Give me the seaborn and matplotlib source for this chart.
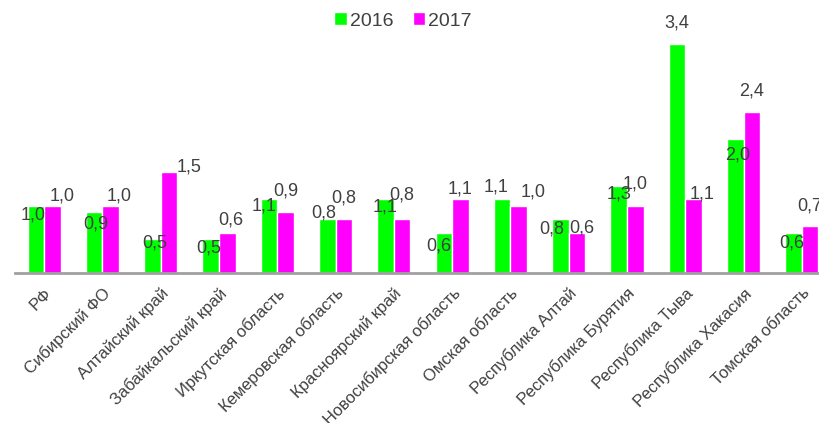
import matplotlib
matplotlib.use("Agg")
import matplotlib.pyplot as plt
import seaborn as sns
import pandas as pd

regions = [
    "РФ", "Сибирский ФО", "Алтайский край", "Забайкальский край",
    "Иркутская область", "Кемеровская область", "Красноярский край",
    "Новосибирская область", "Омская область", "Республика Алтай",
    "Республика Бурятия", "Республика Тыва", "Республика Хакасия",
    "Томская область",
]
years = ["2016", "2017"]
values_2016 = [1.0, 0.9, 0.5, 0.5, 1.1, 0.8, 1.1, 0.6, 1.1, 0.8, 1.3, 3.4, 2.0, 0.6]
values_2017 = [1.0, 1.0, 1.5, 0.6, 0.9, 0.8, 0.8, 1.1, 1.0, 0.6, 1.0, 1.1, 2.4, 0.7]

# label nudges in pixels (dx, dy of the text centre relative to the bar top)
nudge_2016 = [(-3, -9), (2, -12), (2, -4), (-2, -9), (-5, -7), (-4, 6), (0, -8),
              (-5, -13), (-6, 12), (-9, -10), (0, -8), (0, 21), (2, -16), (-2, -10)]
nudge_2017 = [(10, 10), (8, 10), (20, 5), (4, 13), (0, 21), (0, 21), (0, 24),
              (0, 10), (14, 14), (5, 5), (0, 22), (8, 5), (0, 21), (0, 20)]

df = pd.DataFrame({
    "region": regions * 2,
    "year": [years[0]] * len(regions) + [years[1]] * len(regions),
    "value": values_2016 + values_2017,
})

sns.set_theme(style="white")
plt.rcParams["font.family"] = ["Liberation Sans", "DejaVu Sans"]

fig = plt.figure(figsize=(8.19, 4.23), dpi=100)
ax = fig.add_axes([15 / 819, 150 / 423, 816 / 819, 269 / 423])

palette = {"2016": "#00FF00", "2017": "#FF00FF"}
sns.barplot(data=df, x="region", y="value", hue="year", palette=palette,
            width=0.57, saturation=1, ax=ax, legend=True)

ax.set_xlim(-0.5, len(regions) - 0.5)
ax.set_ylim(0, 4.0)
ax.set_xlabel("")
ax.set_ylabel("")
ax.set_yticks([])
for side in ("left", "right", "top"):
    ax.spines[side].set_visible(False)
ax.spines["bottom"].set_color("#A0A0A0")
ax.spines["bottom"].set_linewidth(2.0)
ax.tick_params(axis="x", length=0, pad=9)
plt.setp(ax.get_xticklabels(), rotation=45, ha="right", rotation_mode="anchor",
         fontsize=12, color="#404040")

text_color = "#404040"
for container, vals, nudges in zip(ax.containers, (values_2016, values_2017),
                                   (nudge_2016, nudge_2017)):
    for bar, v, (dx, dy) in zip(container, vals, nudges):
        cx = bar.get_x() + bar.get_width() / 2
        ax.annotate(f"{v:.1f}".replace(".", ","), xy=(cx, v),
                    xytext=(dx, dy), textcoords="offset pixels",
                    ha="center", va="center", fontsize=13, color=text_color,
                    annotation_clip=False)

handles, labels = ax.get_legend_handles_labels()
ax.get_legend().remove()
fig.legend(handles, labels, loc="upper center", bbox_to_anchor=(0.492, 1.012),
           ncol=2, frameon=False, fontsize=14, handlelength=0.65,
           handleheight=0.65, handletextpad=0.15, columnspacing=1.0,
           labelcolor="#404040")

fig.savefig("out.png", dpi=100)
